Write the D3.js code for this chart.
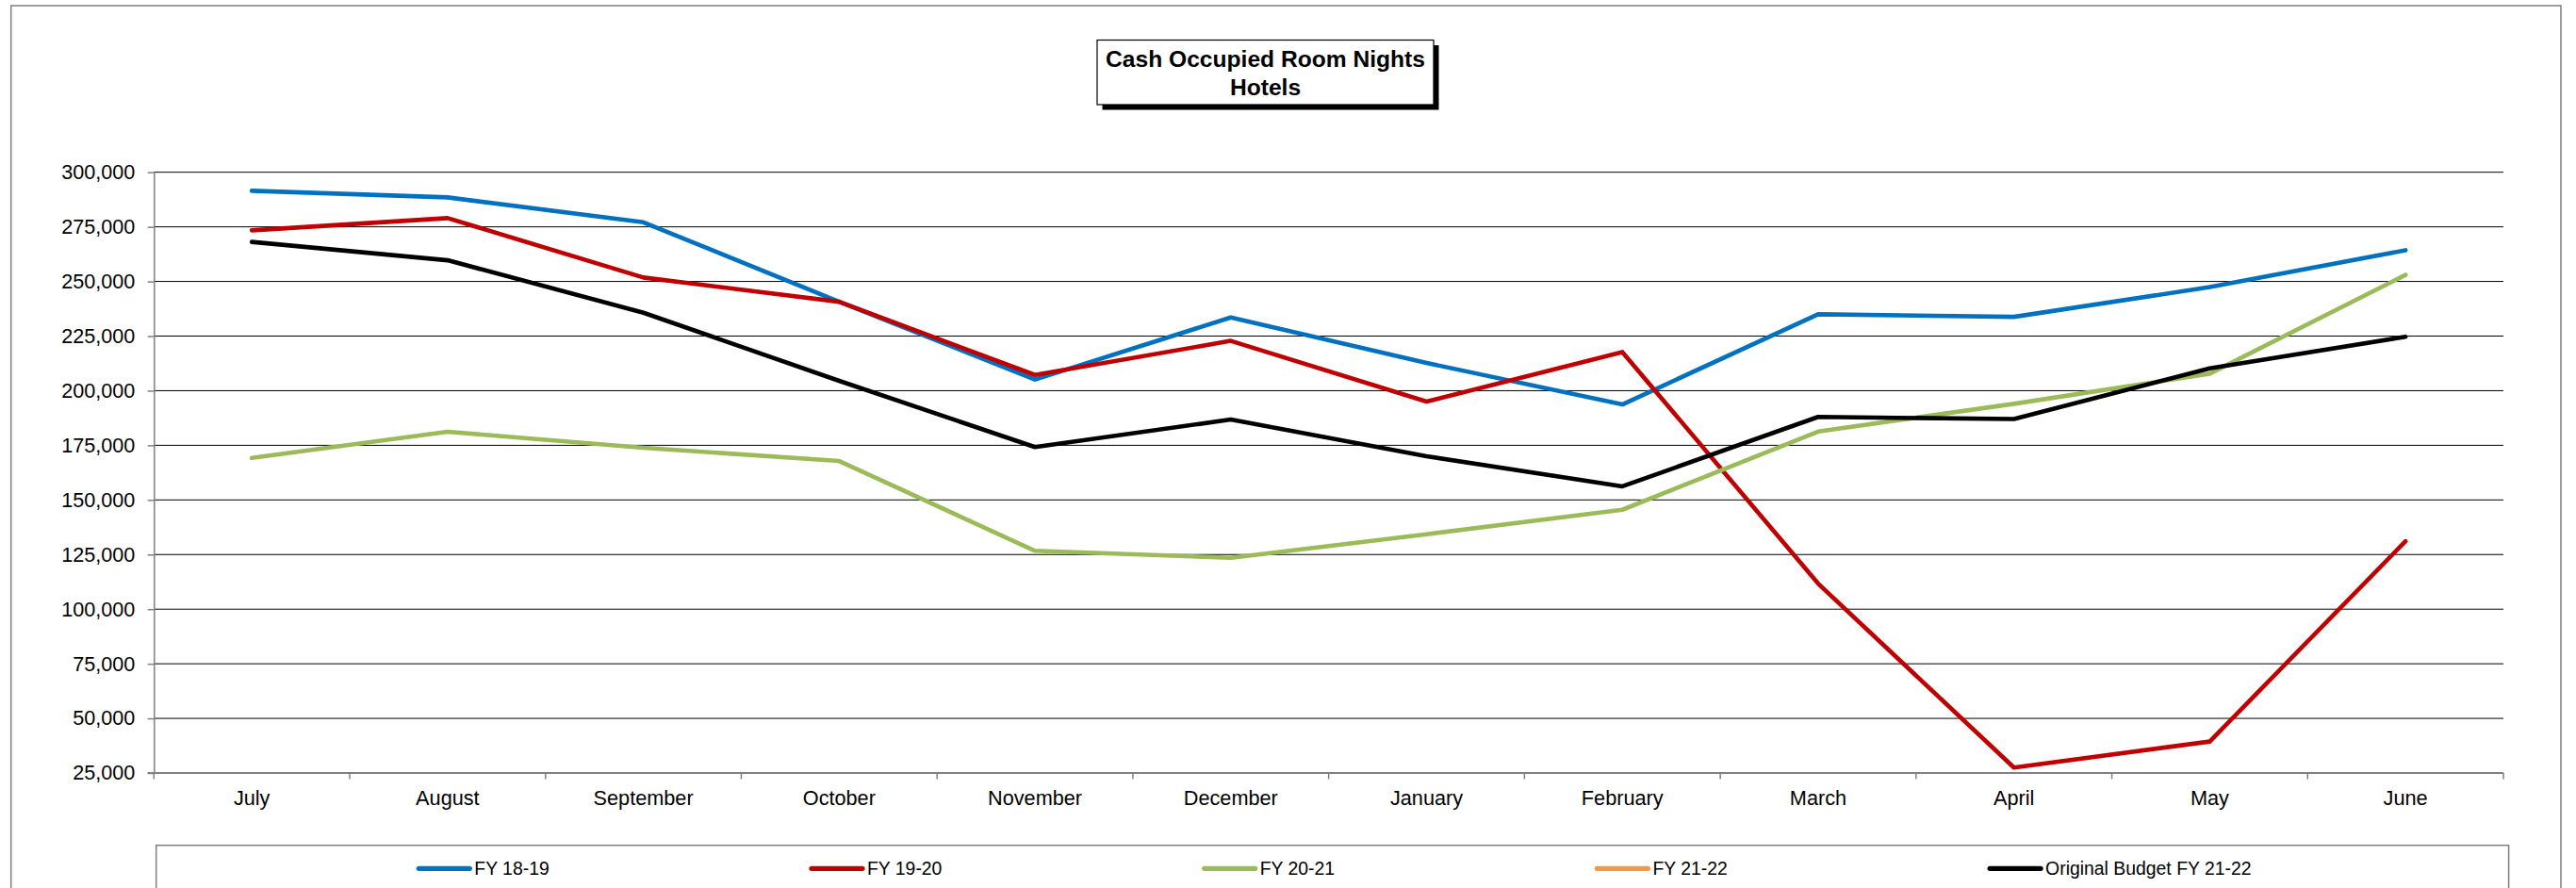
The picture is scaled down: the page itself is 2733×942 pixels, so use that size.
<!DOCTYPE html>
<html>
<head>
<meta charset="utf-8">
<script src="https://cdn.jsdelivr.net/npm/d3@7"></script>
<style>
  html, body { margin: 0; padding: 0; background: #fff; }
  svg { display: block; }
  text { font-family: "Liberation Sans", Arial, sans-serif; }
</style>
</head>
<body>
<svg id="chart" width="2733" height="942"></svg>
<script>
// ---- data ----
const months = ["July","August","September","October","November","December","January","February","March","April","May","June"];
const fy1819 = [291500, 288500, 277100, 240700, 205100, 233500, 212700, 193700, 235000, 233800, 247400, 264300];
const fy1920 = [273400, 279000, 251800, 240700, 207200, 222800, 195000, 217700, 111700, 27500, 39400, 131100];
const fy2021 = [169200, 181200, 173900, 167800, 126700, 123500, 134300, 145500, 181300, 194000, 207800, 253000];
const fy2122 = [];
const budget2122 = [268100, 259700, 235700, 204500, 174200, 186800, 170000, 156200, 188000, 187000, 210200, 224700];
const yTicks = [25000, 50000, 75000, 100000, 125000, 150000, 175000, 200000, 225000, 250000, 275000, 300000];
const seriesNames = ["FY 18-19", "FY 19-20", "FY 20-21", "FY 21-22", "Original Budget FY 21-22"];
const seriesColors = ["#0070C0", "#C00000", "#9BBB59", "#F79646", "#000000"];
const titleLines = ["Cash Occupied Room Nights", "Hotels"];

const seriesData = [fy1819, fy1920, fy2021, fy2122, budget2122];

// ---- layout ----
const svg = d3.select("#chart");
const plotL = 163.3, plotR = 2656, plotT = 182.7, plotB = 820;

// outer chart border
svg.append("rect")
  .attr("x", 11.7).attr("y", 6)
  .attr("width", 2717 - 11.7).attr("height", 960)
  .attr("fill", "none").attr("stroke", "#7f7f7f").attr("stroke-width", 1.5);

const x = d3.scaleBand().domain(months).range([plotL, plotR]).paddingInner(0).paddingOuter(0);
const y = d3.scaleLinear().domain([25000, 300000]).range([plotB, plotT]);

// gridlines
svg.append("g").selectAll("line")
  .data(yTicks.filter(d => d !== 25000))
  .join("line")
  .attr("x1", plotL).attr("x2", plotR)
  .attr("y1", d => y(d)).attr("y2", d => y(d))
  .attr("stroke", "#000").attr("stroke-width", 1);

// y axis
const yAxis = svg.append("g")
  .attr("transform", `translate(${plotL},0)`)
  .call(d3.axisLeft(y).tickValues(yTicks).tickFormat(d3.format(","))
    .tickSizeInner(6.6).tickSizeOuter(0).tickPadding(13.4));
yAxis.select(".domain").attr("stroke", "#808080").attr("stroke-width", 1.5);
yAxis.selectAll(".tick line").attr("stroke", "#808080").attr("stroke-width", 1.5);
yAxis.selectAll(".tick text")
  .attr("font-size", "21.6px").attr("fill", "#000")
  .attr("font-family", "'Liberation Sans', Arial, sans-serif");

// x axis (labels at band centres, ticks at band boundaries)
const xAxis = svg.append("g")
  .attr("transform", `translate(0,${plotB})`)
  .call(d3.axisBottom(x).tickSize(0).tickPadding(19));
xAxis.select(".domain").remove();
xAxis.selectAll(".tick text")
  .attr("font-size", "21.7px").attr("fill", "#000")
  .attr("font-family", "'Liberation Sans', Arial, sans-serif");

const boundaries = months.map(m => x(m)).concat([x(months[months.length - 1]) + x.bandwidth()]);
svg.append("g").selectAll("line")
  .data(boundaries)
  .join("line")
  .attr("x1", d => d).attr("x2", d => d)
  .attr("y1", plotB).attr("y2", plotB + 6.5)
  .attr("stroke", "#808080").attr("stroke-width", 1.5);
svg.append("line")
  .attr("x1", plotL - 6.6).attr("x2", plotR)
  .attr("y1", plotB).attr("y2", plotB)
  .attr("stroke", "#808080").attr("stroke-width", 2);

// series lines
const line = d3.line()
  .x((d, i) => x(months[i]) + x.bandwidth() / 2)
  .y(d => y(d));

svg.append("g").selectAll("path")
  .data(seriesData)
  .join("path")
  .attr("d", d => d.length ? line(d) : null)
  .attr("fill", "none")
  .attr("stroke", (d, i) => seriesColors[i])
  .attr("stroke-width", 4.6)
  .attr("stroke-linejoin", "round")
  .attr("stroke-linecap", "round");

// title box with shadow
const tb = { x: 1164, y: 42.5, w: 357, h: 68.5, off: 5.5 };
svg.append("rect")
  .attr("x", tb.x + tb.off).attr("y", tb.y + tb.off)
  .attr("width", tb.w).attr("height", tb.h).attr("fill", "#000");
svg.append("rect")
  .attr("x", tb.x).attr("y", tb.y)
  .attr("width", tb.w).attr("height", tb.h)
  .attr("fill", "#fff").attr("stroke", "#000").attr("stroke-width", 1.2);
svg.append("g").selectAll("text")
  .data(titleLines)
  .join("text")
  .attr("x", tb.x + tb.w / 2)
  .attr("y", (d, i) => 71 + i * 30.4)
  .attr("text-anchor", "middle")
  .attr("font-size", "24.6px").attr("font-weight", "bold").attr("fill", "#000")
  .text(d => d);

// legend
svg.append("rect")
  .attr("x", 165.7).attr("y", 896.7)
  .attr("width", 2661.6 - 165.7).attr("height", 60)
  .attr("fill", "#fff").attr("stroke", "#7f7f7f").attr("stroke-width", 1.5);

const leg = svg.append("g").selectAll("g")
  .data(seriesNames)
  .join("g")
  .attr("transform", (d, i) => `translate(${444.3 + i * 416.7},921.3)`);
leg.append("line")
  .attr("x1", 0).attr("x2", 54)
  .attr("y1", 0).attr("y2", 0)
  .attr("stroke", (d, i) => seriesColors[i])
  .attr("stroke-width", 5.2)
  .attr("stroke-linecap", "round");
leg.append("text")
  .attr("x", 59).attr("y", 0).attr("dy", "0.35em")
  .attr("font-size", "19.4px").attr("fill", "#000")
  .text(d => d);
</script>
</body>
</html>
